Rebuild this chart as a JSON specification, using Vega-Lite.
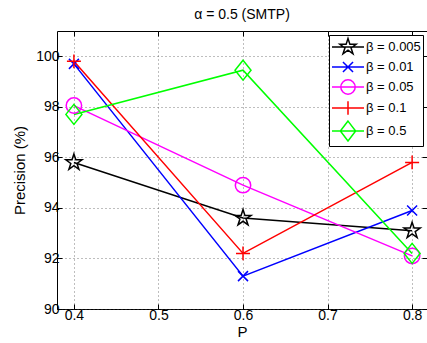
{
  "$schema": "https://vega.github.io/schema/vega-lite/v6.json",
  "width": 370,
  "height": 278,
  "autosize": "none",
  "padding": {"left": 57, "top": 31, "right": 0, "bottom": 34},
  "background": "white",
  "title": {"text": "α = 0.5 (SMTP)", "fontSize": 14, "fontWeight": "normal", "font": "Liberation Sans", "color": "black", "offset": 9, "anchor": "middle"},
  "data": {
    "values": [
      {"beta": "β = 0.005", "P": 0.4, "precision": 95.8},
      {"beta": "β = 0.005", "P": 0.6, "precision": 93.6},
      {"beta": "β = 0.005", "P": 0.8, "precision": 93.1},
      {"beta": "β = 0.01", "P": 0.4, "precision": 99.7},
      {"beta": "β = 0.01", "P": 0.6, "precision": 91.3},
      {"beta": "β = 0.01", "P": 0.8, "precision": 93.9},
      {"beta": "β = 0.05", "P": 0.4, "precision": 98.05},
      {"beta": "β = 0.05", "P": 0.6, "precision": 94.9},
      {"beta": "β = 0.05", "P": 0.8, "precision": 92.1},
      {"beta": "β = 0.1", "P": 0.4, "precision": 99.8},
      {"beta": "β = 0.1", "P": 0.6, "precision": 92.2},
      {"beta": "β = 0.1", "P": 0.8, "precision": 95.8},
      {"beta": "β = 0.5", "P": 0.4, "precision": 97.7},
      {"beta": "β = 0.5", "P": 0.6, "precision": 99.45},
      {"beta": "β = 0.5", "P": 0.8, "precision": 92.2}
    ]
  },
  "layer": [
    {
      "mark": {"type": "line", "strokeWidth": 1.5},
      "encoding": {
        "x": {"field": "P", "type": "quantitative", "scale": {"domain": [0.38, 0.8176], "nice": false, "zero": false},
          "axis": {"orient": "bottom", "values": [0.4, 0.5, 0.6, 0.7, 0.8], "format": ".1f", "title": "P", "tickSize": -5, "labelPadding": 4, "titlePadding": 2, "grid": true, "domain": false}},
        "y": {"field": "precision", "type": "quantitative", "scale": {"domain": [90, 101], "nice": false, "zero": false},
          "axis": {"orient": "left", "values": [90, 92, 94, 96, 98, 100], "title": "Precision (%)", "tickSize": -5, "labelPadding": 3, "titlePadding": 8, "grid": true, "domain": false}},
        "color": {"field": "beta", "type": "nominal",
          "scale": {"domain": ["β = 0.005", "β = 0.01", "β = 0.05", "β = 0.1", "β = 0.5"], "range": ["#000000", "#0000ff", "#ff00ff", "#ff0000", "#00ff00"]},
          "legend": {
            "orient": "none", "legendX": 272, "legendY": 4, "title": null,
            "strokeColor": "black", "fillColor": "white", "padding": 2, "cornerRadius": 0,
            "symbolSize": 324, "rowPadding": 0, "symbolOffset": 7, "labelOffset": 8,
            "labelFontSize": 13, "labelFont": "Liberation Sans", "labelColor": "black", "labelLimit": 200,
            "symbolStrokeWidth": 1.5,
            "encode": {"symbols": {"update": {
              "shape": {"signal": "datum.value === 'β = 0.005' ? 'M-1.78,0L1.78,0M0,-0.944L0.212,-0.292L0.898,-0.292L0.343,0.111L0.555,0.764L0,0.361L-0.555,0.764L-0.343,0.111L-0.898,-0.292L-0.212,-0.292Z' : datum.value === 'β = 0.01' ? 'M-1.78,0L1.78,0M-0.56,-0.56L0.56,0.56M-0.56,0.56L0.56,-0.56' : datum.value === 'β = 0.05' ? 'M-1.78,0L1.78,0M0.8,0A0.8,0.8 0 1 1 -0.8,0A0.8,0.8 0 1 1 0.8,0Z' : datum.value === 'β = 0.1' ? 'M-1.78,0L1.78,0M0,-0.75L0,0.75' : 'M-1.78,0L1.78,0M0,-1.1L0.85,0L0,1.1L-0.85,0Z'"},
              "fill": {"value": "transparent"},
              "strokeWidth": {"value": 1.5}
            }}}
          }}
      }
    },
    {
      "transform": [{"filter": "datum.beta === 'β = 0.005'"}],
      "mark": {"type": "point", "filled": false, "strokeWidth": 1.5, "size": 400, "opacity": 1, "shape": "M0,-0.85L0.191,-0.263L0.808,-0.263L0.309,0.1L0.5,0.688L0,0.325L-0.5,0.688L-0.309,0.1L-0.808,-0.263L-0.191,-0.263Z"},
      "encoding": {
        "x": {"field": "P", "type": "quantitative", "axis": null},
        "y": {"field": "precision", "type": "quantitative", "axis": null},
        "color": {"field": "beta", "type": "nominal", "legend": null}
      }
    },
    {
      "transform": [{"filter": "datum.beta === 'β = 0.01'"}],
      "mark": {"type": "point", "filled": false, "strokeWidth": 1.5, "size": 400, "opacity": 1, "shape": "M-0.5,-0.5L0.5,0.5M-0.5,0.5L0.5,-0.5"},
      "encoding": {
        "x": {"field": "P", "type": "quantitative", "axis": null},
        "y": {"field": "precision", "type": "quantitative", "axis": null},
        "color": {"field": "beta", "type": "nominal", "legend": null}
      }
    },
    {
      "transform": [{"filter": "datum.beta === 'β = 0.05'"}],
      "mark": {"type": "point", "filled": false, "strokeWidth": 1.5, "size": 400, "opacity": 1, "shape": "M0.77,0A0.77,0.77 0 1 1 -0.77,0A0.77,0.77 0 1 1 0.77,0Z"},
      "encoding": {
        "x": {"field": "P", "type": "quantitative", "axis": null},
        "y": {"field": "precision", "type": "quantitative", "axis": null},
        "color": {"field": "beta", "type": "nominal", "legend": null}
      }
    },
    {
      "transform": [{"filter": "datum.beta === 'β = 0.1'"}],
      "mark": {"type": "point", "filled": false, "strokeWidth": 1.5, "size": 400, "opacity": 1, "shape": "M-0.7,0L0.7,0M0,-0.68L0,0.68"},
      "encoding": {
        "x": {"field": "P", "type": "quantitative", "axis": null},
        "y": {"field": "precision", "type": "quantitative", "axis": null},
        "color": {"field": "beta", "type": "nominal", "legend": null}
      }
    },
    {
      "transform": [{"filter": "datum.beta === 'β = 0.5'"}],
      "mark": {"type": "point", "filled": false, "strokeWidth": 1.5, "size": 400, "opacity": 1, "shape": "M0,-1L0.8,0L0,1L-0.8,0Z"},
      "encoding": {
        "x": {"field": "P", "type": "quantitative", "axis": null},
        "y": {"field": "precision", "type": "quantitative", "axis": null},
        "color": {"field": "beta", "type": "nominal", "legend": null}
      }
    },
    {
      "mark": {"type": "point", "opacity": 0},
      "encoding": {
        "x": {"field": "P", "type": "quantitative", "axis": {"orient": "top", "values": [0.4, 0.5, 0.6, 0.7, 0.8], "labels": false, "title": null, "grid": false, "tickSize": -5, "domain": false}},
        "y": {"field": "precision", "type": "quantitative", "axis": {"orient": "right", "values": [90, 92, 94, 96, 98, 100], "labels": false, "title": null, "grid": false, "tickSize": -5, "domain": false}}
      }
    }
  ],
  "resolve": {"axis": {"x": "independent", "y": "independent"}},
  "config": {
    "view": {"stroke": "black", "strokeWidth": 1},
    "axis": {
      "labelFont": "Liberation Sans", "labelFontSize": 14, "labelColor": "black",
      "titleFont": "Liberation Sans", "titleFontSize": 15, "titleFontWeight": "normal", "titleColor": "black",
      "tickColor": "black", "tickWidth": 1, "domainColor": "black",
      "gridColor": "#444444", "gridDash": [1, 3], "gridWidth": 1, "gridOpacity": 0.7
    }
  }
}
